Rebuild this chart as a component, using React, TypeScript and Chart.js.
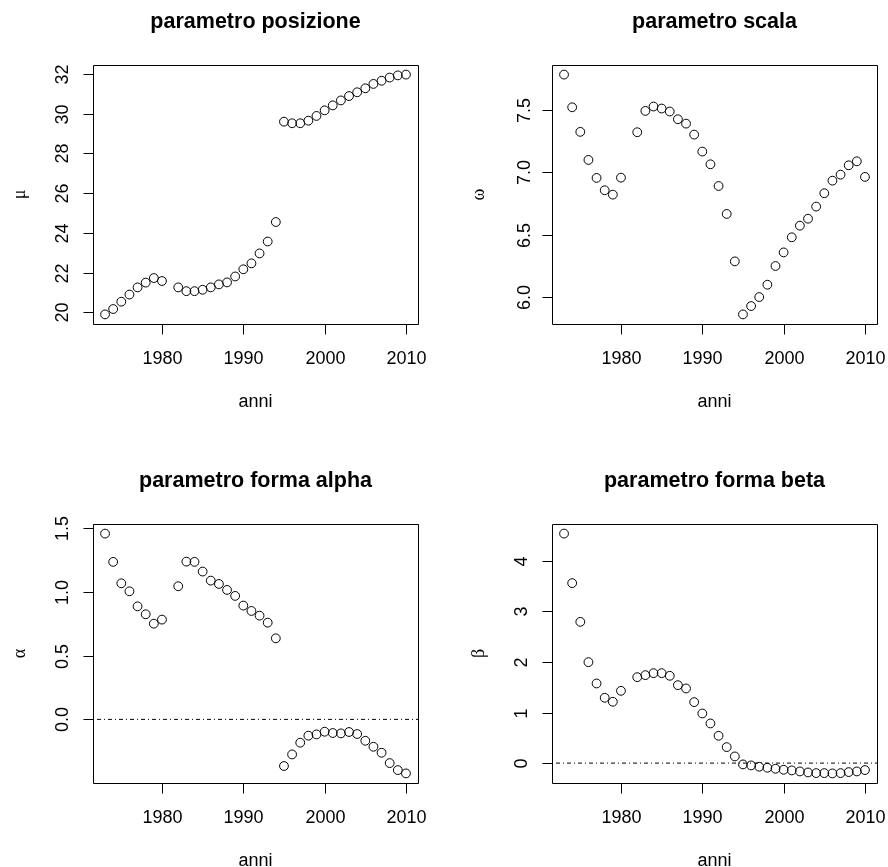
import React, { useEffect, useRef } from "react";
import { Chart, registerables } from "chart.js";

Chart.register(...registerables);

// ---------------- data ----------------
const years = [
  1973, 1974, 1975, 1976, 1977, 1978, 1979, 1980, 1982, 1983, 1984, 1985, 1986,
  1987, 1988, 1989, 1990, 1991, 1992, 1993, 1994, 1995, 1996, 1997, 1998, 1999,
  2000, 2001, 2002, 2003, 2004, 2005, 2006, 2007, 2008, 2009, 2010,
];

const mu = [
  19.9, 20.17, 20.54, 20.9, 21.26, 21.5, 21.73, 21.58, 21.26, 21.07, 21.07,
  21.14, 21.26, 21.41, 21.51, 21.81, 22.17, 22.47, 22.97, 23.57, 24.55, 29.6,
  29.52, 29.52, 29.65, 29.89, 30.17, 30.42, 30.67, 30.89, 31.08, 31.28, 31.5,
  31.66, 31.82, 31.93, 31.97,
];

const omega = [
  7.783, 7.521, 7.324, 7.099, 6.955, 6.856, 6.821, 6.957, 7.321, 7.492, 7.527,
  7.511, 7.487, 7.425, 7.39, 7.302, 7.166, 7.064, 6.89, 6.666, 6.286, 5.861,
  5.928, 6.0, 6.099, 6.249, 6.358, 6.479, 6.572, 6.628, 6.725, 6.832, 6.933,
  6.981, 7.056, 7.088, 6.963,
];

const alpha = [
  1.458, 1.236, 1.068, 1.005, 0.887, 0.825, 0.751, 0.783, 1.045, 1.238, 1.236,
  1.16, 1.089, 1.063, 1.016, 0.969, 0.893, 0.851, 0.814, 0.759, 0.636, -0.366,
  -0.275, -0.183, -0.128, -0.118, -0.097, -0.107, -0.11, -0.099, -0.115,
  -0.168, -0.215, -0.262, -0.343, -0.398, -0.424,
];

const beta = [
  4.54, 3.56, 2.794, 1.997, 1.575, 1.292, 1.213, 1.43, 1.7, 1.74, 1.779, 1.779,
  1.727, 1.542, 1.476, 1.206, 0.982, 0.784, 0.54, 0.316, 0.132, -0.026, -0.046,
  -0.072, -0.092, -0.112, -0.132, -0.145, -0.165, -0.185, -0.198, -0.198,
  -0.204, -0.198, -0.178, -0.165, -0.138,
];

const xTicks = [1980, 1990, 2000, 2010];
const xTickLabels = ["1980", "1990", "2000", "2010"];

const muTicks = [20, 22, 24, 26, 28, 30, 32];
const muTickLabels = ["20", "22", "24", "26", "28", "30", "32"];
const omegaTicks = [6.0, 6.5, 7.0, 7.5];
const omegaTickLabels = ["6.0", "6.5", "7.0", "7.5"];
const alphaTicks = [0, 0.5, 1.0, 1.5];
const alphaTickLabels = ["0.0", "0.5", "1.0", "1.5"];
const betaTicks = [0, 1, 2, 3, 4];
const betaTickLabels = ["0", "1", "2", "3", "4"];

const titles = [
  "parametro posizione",
  "parametro scala",
  "parametro forma alpha",
  "parametro forma beta",
];
const yLabels = ["\u03bc", "\u03c9", "\u03b1", "\u03b2"];
const xLabel = "anni";
const refLines = [null, null, 0, 0];

// ---------------- layout ----------------
type Panel = {
  values: number[];
  yTicks: number[];
  yTickLabels: string[];
  title: string;
  yLabel: string;
  refLine: number | null;
  left: number;
  top: number;
  width: number;
  height: number;
  pad: { left: number; top: number; right: number; bottom: number };
  yTickOffset: number;
};

const PAD_TOP = { left: 93, top: 65, right: 26, bottom: 110 };
const PAD_TOP_R = { left: 108, top: 65, right: 11, bottom: 110 };
const PAD_BOT = { left: 93, top: 90, right: 26, bottom: 84 };
const PAD_BOT_R = { left: 108, top: 90, right: 11, bottom: 84 };

const panels: Panel[] = [
  { values: mu, yTicks: muTicks, yTickLabels: muTickLabels, title: titles[0], yLabel: yLabels[0], refLine: refLines[0], left: 0, top: 0, width: 444, height: 434, pad: PAD_TOP, yTickOffset: 25 },
  { values: omega, yTicks: omegaTicks, yTickLabels: omegaTickLabels, title: titles[1], yLabel: yLabels[1], refLine: refLines[1], left: 444, top: 0, width: 444, height: 434, pad: PAD_TOP_R, yTickOffset: 22 },
  { values: alpha, yTicks: alphaTicks, yTickLabels: alphaTickLabels, title: titles[2], yLabel: yLabels[2], refLine: refLines[2], left: 0, top: 434, width: 444, height: 433, pad: PAD_BOT, yTickOffset: 25 },
  { values: beta, yTicks: betaTicks, yTickLabels: betaTickLabels, title: titles[3], yLabel: yLabels[3], refLine: refLines[3], left: 444, top: 434, width: 444, height: 433, pad: PAD_BOT_R, yTickOffset: 25 },
];

function rRange(v: number[]): [number, number] {
  const mn = Math.min(...v);
  const mx = Math.max(...v);
  const r = mx - mn;
  return [mn - 0.04 * r, mx + 0.04 * r];
}

const SANS = '"Liberation Sans", Arial, Helvetica, sans-serif';
const SERIF = '"Liberation Serif", "DejaVu Serif", serif';

function PanelChart({ p }: { p: Panel }) {
  const ref = useRef<HTMLCanvasElement | null>(null);
  useEffect(() => {
    if (!ref.current) return;
    const [xmin, xmax] = rRange(years);
    const [ymin, ymax] = rRange(p.values);
    const datasets: any[] = [
      {
        type: "scatter",
        data: years.map((yr, i) => ({ x: yr, y: p.values[i] })),
        pointStyle: "circle",
        pointRadius: 4.4,
        pointBorderWidth: 1,
        pointBorderColor: "#000",
        pointBackgroundColor: "rgba(0,0,0,0)",
        showLine: false,
        clip: false,
      },
    ];
    if (p.refLine !== null) {
      datasets.push({
        type: "line",
        data: [
          { x: xmin, y: p.refLine },
          { x: xmax, y: p.refLine },
        ],
        borderColor: "#000",
        borderWidth: 1,
        borderDash: [1, 3, 4, 3],
        pointRadius: 0,
        fill: false,
      });
    }
    const axesPlugin = {
      id: "rAxes",
      afterDraw(chart: any) {
        const ctx = chart.ctx as CanvasRenderingContext2D;
        const a = chart.chartArea;
        const xs = chart.scales.x;
        const ys = chart.scales.y;
        const L = Math.round(a.left) + 0.5;
        const T = Math.round(a.top) + 0.5;
        const R = Math.round(a.right) + 0.5;
        const B = Math.round(a.bottom) + 0.5;
        const tick = 10;
        ctx.save();
        ctx.strokeStyle = "#000";
        ctx.fillStyle = "#000";
        ctx.lineWidth = 1;
        ctx.beginPath();
        ctx.rect(L, T, R - L, B - T);
        ctx.stroke();
        // x axis ticks
        ctx.font = `18px ${SANS}`;
        ctx.textAlign = "center";
        ctx.textBaseline = "alphabetic";
        xTicks.forEach((t, i) => {
          const px = Math.round(xs.getPixelForValue(t)) + 0.5;
          ctx.beginPath();
          ctx.moveTo(px, B);
          ctx.lineTo(px, B + tick);
          ctx.stroke();
          ctx.fillText(xTickLabels[i], px, a.bottom + 40);
        });
        // y axis ticks
        p.yTicks.forEach((t, i) => {
          const py = Math.round(ys.getPixelForValue(t)) + 0.5;
          ctx.beginPath();
          ctx.moveTo(L - tick, py);
          ctx.lineTo(L, py);
          ctx.stroke();
          ctx.save();
          ctx.translate(a.left - p.yTickOffset, py);
          ctx.rotate(-Math.PI / 2);
          ctx.fillText(p.yTickLabels[i], 0, 0);
          ctx.restore();
        });
        const cx = (a.left + a.right) / 2;
        const cy = (a.top + a.bottom) / 2;
        // x label
        ctx.fillText(xLabel, cx, a.bottom + 83);
        // title
        ctx.font = `bold 21.5px ${SANS}`;
        ctx.fillText(p.title, cx, a.top - 37.5);
        // y label
        ctx.font = `18px ${SERIF}`;
        ctx.save();
        ctx.translate(a.left - 68, cy);
        ctx.rotate(-Math.PI / 2);
        ctx.fillText(p.yLabel, 0, 0);
        ctx.restore();
        ctx.restore();
      },
    };
    const chart = new Chart(ref.current, {
      type: "scatter",
      data: { datasets },
      options: {
        responsive: false,
        animation: false,
        devicePixelRatio: 1,
        layout: { padding: p.pad },
        plugins: { legend: { display: false }, tooltip: { enabled: false }, title: { display: false } },
        scales: {
          x: { type: "linear", display: false, min: xmin, max: xmax },
          y: { type: "linear", display: false, min: ymin, max: ymax },
        },
      },
      plugins: [axesPlugin],
    } as any);
    return () => chart.destroy();
  }, [p]);
  return (
    <canvas
      ref={ref}
      width={p.width}
      height={p.height}
      style={{ position: "absolute", left: p.left, top: p.top, width: p.width, height: p.height }}
    />
  );
}

export default function App() {
  return (
    <div style={{ position: "absolute", left: 0, top: 0, width: 888, height: 867, background: "#fff", overflow: "hidden" }}>
      {panels.map((p, i) => (
        <PanelChart key={i} p={p} />
      ))}
    </div>
  );
}
